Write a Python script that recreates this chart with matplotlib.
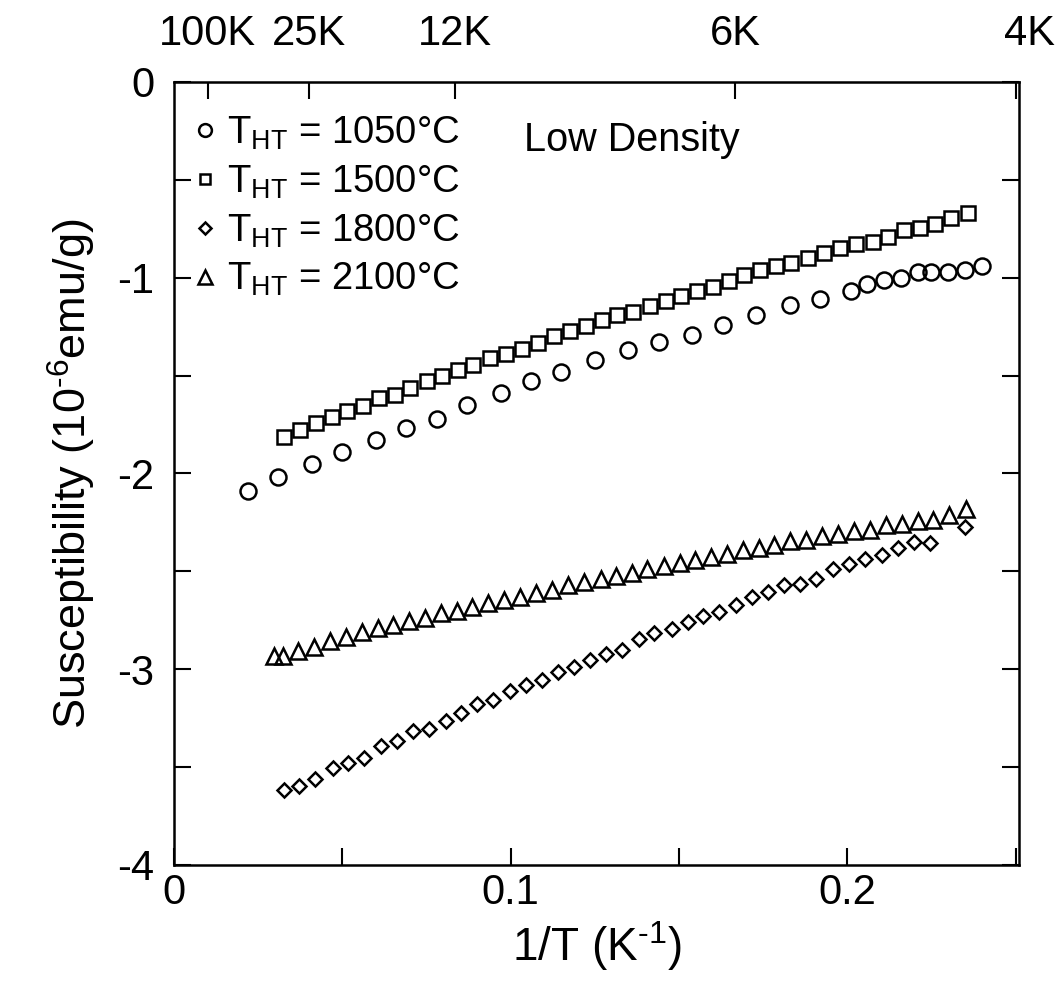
import matplotlib
matplotlib.use("Agg")
import matplotlib.pyplot as plt
import matplotlib.transforms as mtransforms
from matplotlib.ticker import MultipleLocator, FuncFormatter

plt.rcParams["font.family"] = ["Liberation Sans", "DejaVu Sans"]
plt.rcParams["mathtext.fontset"] = "custom"
plt.rcParams["mathtext.rm"] = "Liberation Sans"
plt.rcParams["mathtext.it"] = "Liberation Sans"

# 1/T (K^-1) and susceptibility (1e-6 emu/g) for each heat-treatment temperature
x_1050 = [0.022, 0.031, 0.041, 0.050, 0.060, 0.069, 0.078, 0.087, 0.097, 0.106,
          0.115, 0.125, 0.135, 0.144, 0.154, 0.163, 0.173, 0.183, 0.192, 0.201,
          0.206, 0.211, 0.216, 0.221, 0.225, 0.230, 0.235, 0.240]
y_1050 = [-2.09, -2.02, -1.95, -1.89, -1.83, -1.77, -1.72, -1.65, -1.59, -1.53,
          -1.48, -1.42, -1.37, -1.33, -1.29, -1.24, -1.19, -1.14, -1.11, -1.07,
          -1.03, -1.01, -1.00, -0.97, -0.97, -0.97, -0.96, -0.94]

x_1500 = [0.0326, 0.0373, 0.0421, 0.0469, 0.0515, 0.0562, 0.0609, 0.0656, 0.0701, 0.0751,
          0.0797, 0.0844, 0.0889, 0.0939, 0.0986, 0.1033, 0.1081, 0.1129, 0.1176, 0.1223,
          0.1272, 0.1317, 0.1363, 0.1413, 0.1460, 0.1505, 0.1554, 0.1602, 0.1648, 0.1694,
          0.1740, 0.1788, 0.1834, 0.1883, 0.1932, 0.1977, 0.2027, 0.2076, 0.2121, 0.2169,
          0.2217, 0.2261, 0.2308, 0.2358]
y_1500 = [-1.813, -1.780, -1.742, -1.713, -1.679, -1.656, -1.614, -1.598, -1.561, -1.529,
          -1.503, -1.472, -1.447, -1.411, -1.389, -1.363, -1.331, -1.298, -1.271, -1.248,
          -1.217, -1.192, -1.173, -1.144, -1.121, -1.094, -1.069, -1.046, -1.016, -0.984,
          -0.963, -0.940, -0.925, -0.899, -0.873, -0.846, -0.828, -0.817, -0.794, -0.757,
          -0.748, -0.725, -0.697, -0.670]

x_1800 = [0.0326, 0.0372, 0.0419, 0.0471, 0.0518, 0.0565, 0.0614, 0.0662, 0.0710, 0.0758,
          0.0807, 0.0852, 0.0901, 0.0949, 0.0998, 0.1045, 0.1092, 0.1140, 0.1188, 0.1237,
          0.1282, 0.1332, 0.1381, 0.1427, 0.1478, 0.1526, 0.1572, 0.1620, 0.1668, 0.1717,
          0.1765, 0.1811, 0.1861, 0.1908, 0.1959, 0.2004, 0.2053, 0.2103, 0.2150, 0.2199,
          0.2246, 0.2350]
y_1800 = [-3.616, -3.598, -3.560, -3.503, -3.478, -3.451, -3.394, -3.368, -3.316, -3.307,
          -3.263, -3.223, -3.177, -3.158, -3.111, -3.080, -3.054, -3.015, -2.989, -2.954,
          -2.922, -2.904, -2.847, -2.817, -2.795, -2.759, -2.730, -2.707, -2.674, -2.633,
          -2.607, -2.569, -2.563, -2.540, -2.489, -2.463, -2.437, -2.414, -2.379, -2.352,
          -2.356, -2.273]

x_2100 = [0.0298, 0.0323, 0.0369, 0.0416, 0.0464, 0.0510, 0.0557, 0.0605, 0.0651, 0.0698,
          0.0746, 0.0792, 0.0840, 0.0886, 0.0934, 0.0980, 0.1028, 0.1074, 0.1124, 0.1170,
          0.1218, 0.1269, 0.1312, 0.1359, 0.1406, 0.1455, 0.1502, 0.1549, 0.1596, 0.1643,
          0.1691, 0.1737, 0.1783, 0.1831, 0.1878, 0.1925, 0.1972, 0.2019, 0.2066, 0.2115,
          0.2162, 0.2209, 0.2256, 0.2301, 0.2353]
y_2100 = [-2.933, -2.933, -2.906, -2.885, -2.858, -2.835, -2.809, -2.787, -2.776, -2.752,
          -2.737, -2.711, -2.701, -2.683, -2.662, -2.644, -2.630, -2.612, -2.594, -2.571,
          -2.553, -2.537, -2.526, -2.510, -2.490, -2.472, -2.456, -2.441, -2.429, -2.410,
          -2.392, -2.383, -2.365, -2.347, -2.338, -2.320, -2.309, -2.296, -2.287, -2.263,
          -2.256, -2.245, -2.237, -2.211, -2.179]

# temperatures marked along the top axis
top_temps = [100, 25, 12, 6, 4]
top_labels = ["100K", "25K", "12K", "6K", "4K"]

fig = plt.figure(figsize=(10.58, 9.89), dpi=100)
ax = fig.add_axes([0.1645, 0.1254, 0.7986, 0.7917])

mk = dict(linestyle="none", markerfacecolor="none", markeredgecolor="black", markeredgewidth=1.8)
ax.plot(x_1050, y_1050, marker="o", markersize=11.5, label="T$_{\\mathrm{HT}}$ = 1050°C", **mk)
ax.plot(x_1500, y_1500, marker="s", markersize=9.5, label="T$_{\\mathrm{HT}}$ = 1500°C", **mk)
ax.plot(x_1800, y_1800, marker="D", markersize=7.3, label="T$_{\\mathrm{HT}}$ = 1800°C", **mk)
ax.plot(x_2100, y_2100, marker="^", markersize=12, label="T$_{\\mathrm{HT}}$ = 2100°C", **mk)

ax.set_xlim(0, 0.251)
ax.set_ylim(-4, 0)
ax.xaxis.set_major_locator(MultipleLocator(0.1))
ax.xaxis.set_minor_locator(MultipleLocator(0.05))
ax.yaxis.set_major_locator(MultipleLocator(1))
ax.yaxis.set_minor_locator(MultipleLocator(0.5))
ax.xaxis.set_major_formatter(FuncFormatter(lambda v, p: "0" if abs(v) < 1e-9 else f"{v:.1f}"))
ax.yaxis.set_major_formatter(FuncFormatter(lambda v, p: "0" if abs(v) < 1e-9 else f"{v:.0f}"))

ax.tick_params(which="both", direction="in", length=12, width=1.5,
               top=False, right=True, labelsize=30)
ax.tick_params(axis="y", pad=14)
ax.tick_params(axis="x", pad=6)
for s in ax.spines.values():
    s.set_linewidth(1.8)

ax.set_xlabel("1/T (K$^{\\mathrm{\u2010}1}$)", fontsize=33, labelpad=4)
ax.set_ylabel("Susceptibility (10$^{\\mathrm{\u2010}6}$emu/g)", fontsize=32.5, labelpad=14)

top = ax.secondary_xaxis("top")
top.set_xticks([1.0 / t for t in top_temps])
top.set_xticklabels(top_labels)
top.tick_params(direction="in", length=12, width=1.5, labelsize=30, pad=20)

ax.legend(loc="upper left", bbox_to_anchor=(0.018, 0.963), frameon=False,
          fontsize=27.5, markerscale=0.8, handlelength=0.6, handletextpad=0.3,
          labelspacing=0.3, borderaxespad=0.0, borderpad=0.1)

ax.text(0.542, 0.926, "Low Density", transform=ax.transAxes, fontsize=28.5,
        ha="center", va="center")

# nudge the "4K" label a little past the right edge
fig.canvas.draw()
lab4 = top.xaxis.get_major_ticks()[-1].label2
lab4.set_transform(lab4.get_transform() +
                   mtransforms.ScaledTranslation(14 / 100, 0, fig.dpi_scale_trans))

fig.savefig("out.png", dpi=100)
